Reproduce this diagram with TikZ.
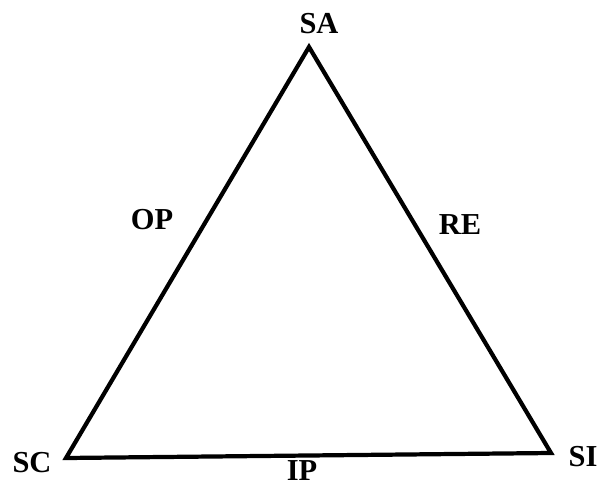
\documentclass[tikz,border=0pt]{standalone}
\usepackage{fontspec}
\setmainfont{Liberation Serif}
\usepackage{tikz}
\usetikzlibrary{positioning}

\begin{document}
\begin{tikzpicture}[x=0.03cm, y=-0.03cm, every node/.style={font=\bfseries\fontsize{26}{28}\selectfont, inner sep=0pt}, edge/.style={line width=3.6pt, line join=miter, black}]
\useasboundingbox (0,0) rectangle (599,488);
\coordinate (sa) at (309,47);
\coordinate (sc) at (66,458);
\coordinate (si) at (551,453);
\draw[edge] (sa) -- (si) -- (sc) -- cycle;
\node (salab) at (319,24) {SA};
\node (sclab) at (32,463) {SC};
\node (silab) at (583,457) {SI};
\node (oplab) at (152,220) {OP};
\node (relab) at (460,225) {RE};
\node (iplab) at (302,471) {IP};
\end{tikzpicture}
\end{document}
